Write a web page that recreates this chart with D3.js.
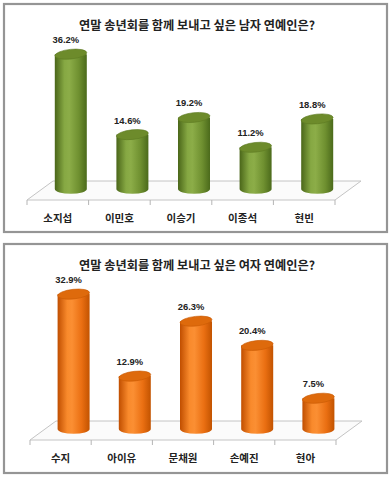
<!DOCTYPE html>
<html><head><meta charset="utf-8">
<script src="https://cdn.jsdelivr.net/npm/d3@7"></script>
<style>html,body{margin:0;padding:0;background:#fff;}svg{display:block;}</style>
</head><body>
<svg id="chart" width="392" height="480"></svg>
<script>
const maleTitle = "연말 송년회를 함께 보내고 싶은 남자 연예인은?";
const maleNames = ["소지섭", "이민호", "이승기", "이종석", "현빈"];
const maleValues = [36.2, 14.6, 19.2, 11.2, 18.8];
const femaleTitle = "연말 송년회를 함께 보내고 싶은 여자 연예인은?";
const femaleNames = ["수지", "아이유", "문채원", "손예진", "현아"];
const femaleValues = [32.9, 12.9, 26.3, 20.4, 7.5];

const svg = d3.select("#chart");
const defs = svg.append("defs");

function grad(id, stops) {
  const g = defs.append("linearGradient").attr("id", id)
    .attr("x1", "0%").attr("x2", "100%").attr("y1", "0%").attr("y2", "0%");
  stops.forEach(s => g.append("stop").attr("offset", s[0]).attr("stop-color", s[1]));
}
grad("gGreen", [["0%", "#4a6619"], ["30%", "#86a843"], ["45%", "#8cad48"], ["75%", "#6f9030"], ["100%", "#4b6a1b"]]);
grad("gOrange", [["0%", "#c04e00"], ["30%", "#f98a2c"], ["45%", "#fb8f33"], ["75%", "#ea6f12"], ["100%", "#c25300"]]);

function panel(cfg) {
  const g = svg.append("g");
  g.append("rect").attr("x", cfg.box[0]).attr("y", cfg.box[1])
    .attr("width", cfg.box[2]).attr("height", cfg.box[3])
    .attr("fill", "#fff").attr("stroke", "#959595").attr("stroke-width", 2.2);
  g.append("text").attr("x", 197).attr("y", cfg.titleY)
    .attr("text-anchor", "middle")
    .attr("font-family", "'Noto Sans CJK KR', sans-serif")
    .attr("font-size", 12.2).attr("font-weight", "bold").attr("fill", "#222")
    .text(cfg.title);

  const x = d3.scaleBand().domain(cfg.names).range([cfg.left, cfg.right]).padding(0);
  const y = d3.scaleLinear().domain([0, cfg.yMax]).range([cfg.base, cfg.base - cfg.plotH]);
  const dx = 26, dy = -19;

  const fy = cfg.floorY;
  g.append("path")
    .attr("d", `M${cfg.left},${fy} L${cfg.right},${fy} L${cfg.right + dx},${fy + dy} L${cfg.left + dx},${fy + dy} Z`)
    .attr("fill", "#fbfbfb").attr("stroke", "#c4c4c4").attr("stroke-width", 1);
  const bounds = cfg.names.map(n => x(n)).concat([cfg.right]);
  g.selectAll("line.tick").data(bounds).enter().append("line")
    .attr("x1", d => d).attr("x2", d => d)
    .attr("y1", fy).attr("y2", fy + 5)
    .attr("stroke", "#b5b5b5").attr("stroke-width", 1);

  const bw = 32, rx = bw / 2, ry = 4.8;
  const data = cfg.names.map((n, i) => ({ name: n, value: cfg.values[i] }));
  const bars = g.selectAll("g.bar").data(data).enter().append("g");
  bars.each(function (d) {
    const s = d3.select(this);
    const cx = x(d.name) + x.bandwidth() / 2 + dx / 2;
    const yt = y(d.value), yb = y(0);
    s.append("path")
      .attr("d", `M${cx - rx},${yt} L${cx - rx},${yb} A${rx},${ry} 0 0 0 ${cx + rx},${yb} L${cx + rx},${yt} Z`)
      .attr("fill", `url(#${cfg.grad})`);
    s.append("ellipse").attr("cx", cx).attr("cy", yt).attr("rx", rx).attr("ry", ry)
      .attr("transform", `rotate(-6 ${cx} ${yt})`)
      .attr("fill", cfg.top).attr("stroke", cfg.topStroke).attr("stroke-width", 0.6);
    s.append("text").attr("x", cx - 5).attr("y", yt - 11)
      .attr("text-anchor", "middle")
      .attr("font-family", "'Liberation Sans', Arial, sans-serif")
      .attr("font-size", 9.4).attr("font-weight", "bold").attr("fill", "#222")
      .text(d.value.toFixed(1) + "%");
  });

  g.selectAll("text.cat").data(cfg.names).enter().append("text")
    .attr("x", d => x(d) + x.bandwidth() / 2)
    .attr("y", cfg.catY)
    .attr("text-anchor", "middle")
    .attr("font-family", "'Noto Sans CJK KR', sans-serif")
    .attr("font-size", 10.5).attr("font-weight", "bold").attr("fill", "#222")
    .text(d => d);
}

panel({
  box: [4, 4, 383, 228], title: maleTitle, titleY: 30,
  names: maleNames, values: maleValues,
  left: 27, right: 335, floorY: 200, base: 189, yMax: 40, plotH: 149,
  catY: 222, grad: "gGreen", top: "#6d8b2b", topStroke: "#5d7a22"
});
panel({
  box: [4, 244, 383, 229], title: femaleTitle, titleY: 270,
  names: femaleNames, values: femaleValues,
  left: 30, right: 336, floorY: 440, base: 429, yMax: 35, plotH: 143.5,
  catY: 462, grad: "gOrange", top: "#de6a0c", topStroke: "#c85a04"
});
</script>
</body></html>
